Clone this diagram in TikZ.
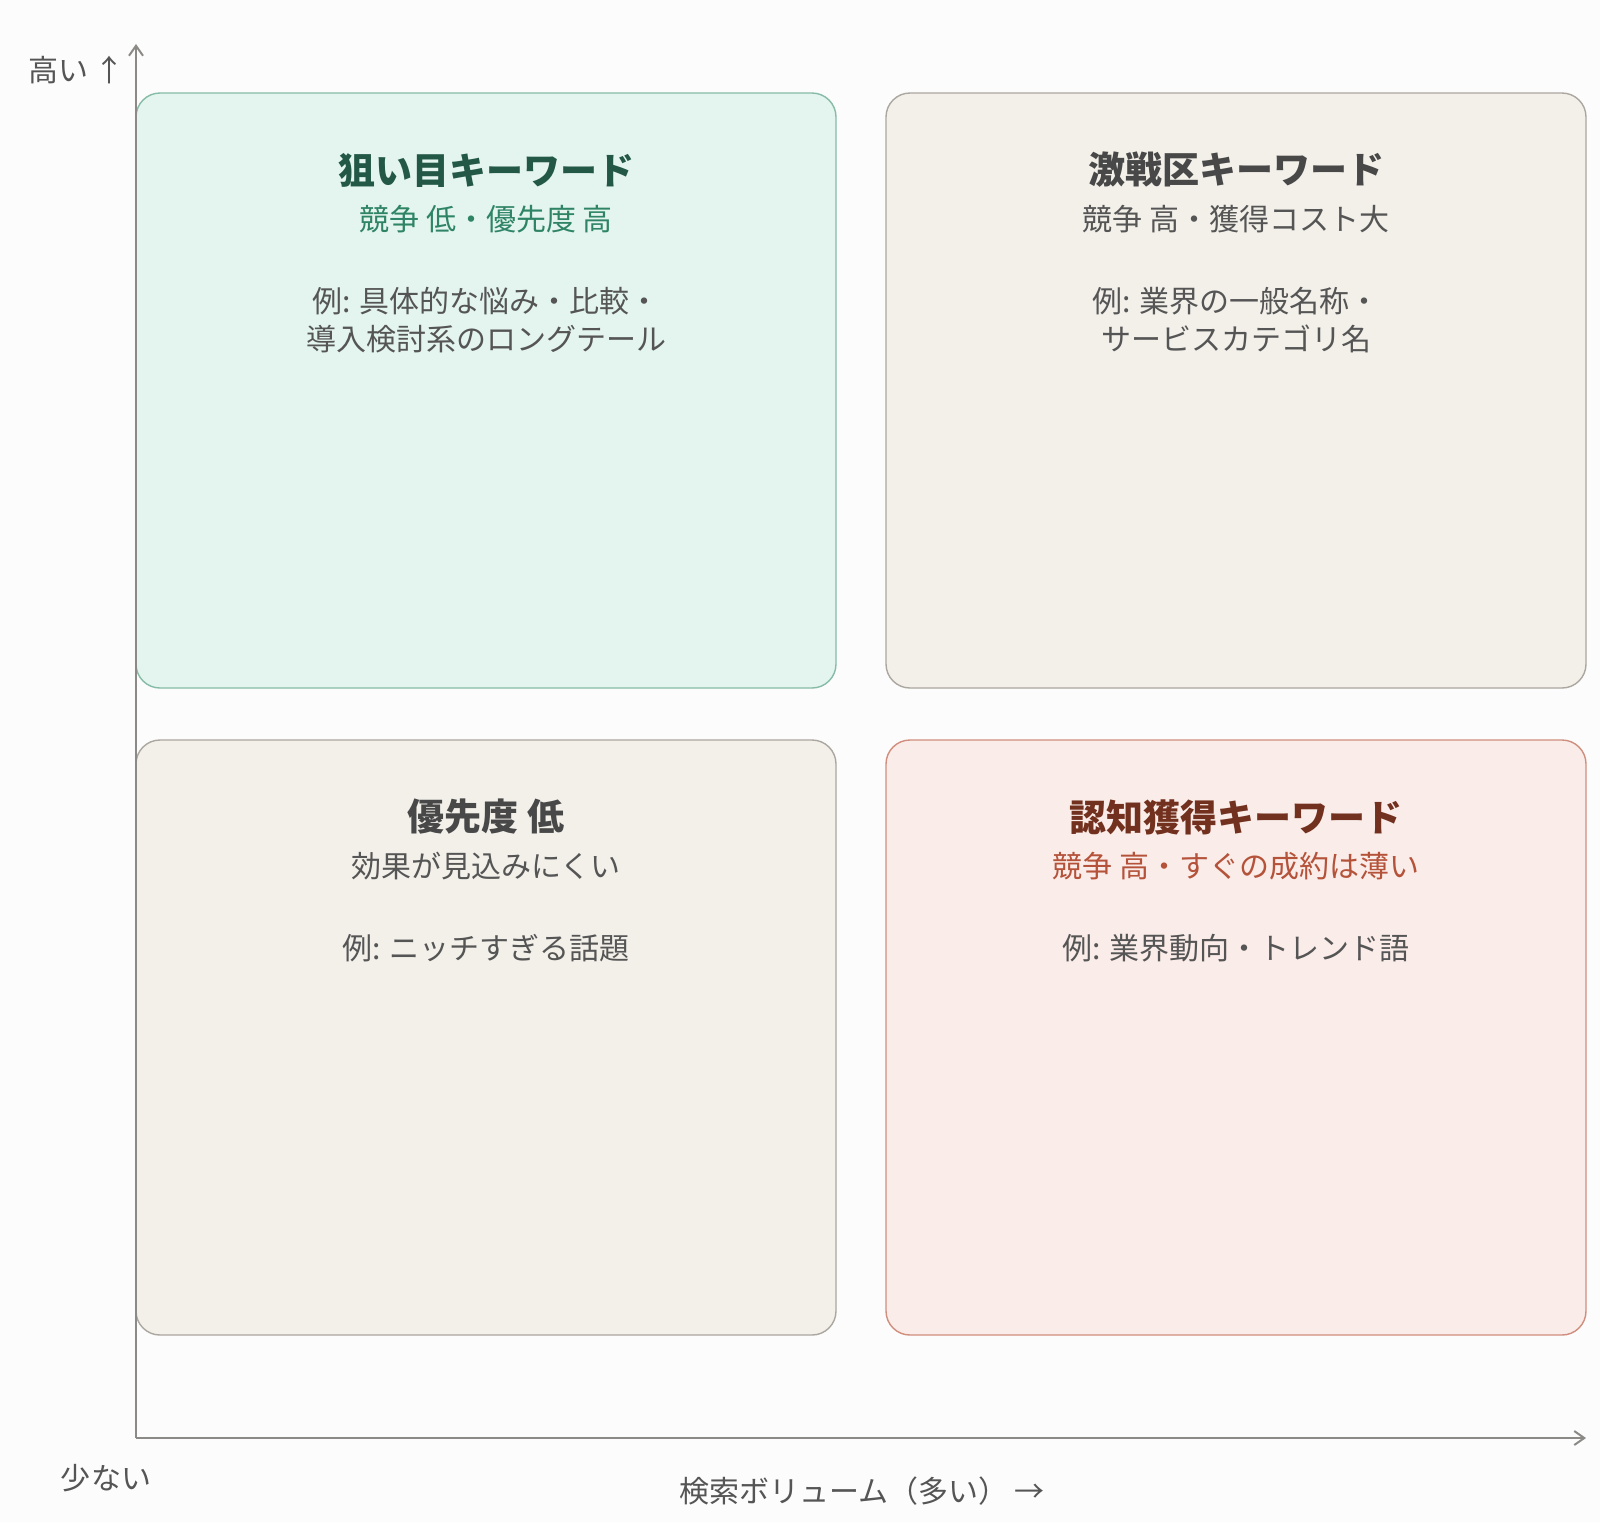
\documentclass[tikz,border=0pt]{standalone}
\usepackage{fontspec}
\setmainfont{Noto Sans CJK JP}
\usetikzlibrary{arrows.meta,positioning,calc}
\definecolor{pagebg}{HTML}{FCFCFC}
\definecolor{axisgray}{HTML}{8C8A86}
\definecolor{textgray}{HTML}{555555}
\definecolor{greenfill}{HTML}{E3F5EE}
\definecolor{greenline}{HTML}{86BBA7}
\definecolor{greentitle}{HTML}{245846}
\definecolor{greensub}{HTML}{2F8466}
\definecolor{beigefill}{HTML}{F3F0EA}
\definecolor{beigeline}{HTML}{ABA7A0}
\definecolor{beigetitle}{HTML}{484848}
\definecolor{redfill}{HTML}{FAECE8}
\definecolor{redline}{HTML}{D08E7E}
\definecolor{redtitle}{HTML}{72301E}
\definecolor{redsub}{HTML}{B4523A}
\tikzset{
  quad/.style={draw, line width=0.7pt, rounded corners=12pt,
    minimum width=350pt, minimum height=297.5pt, inner sep=0pt},
  qtitle/.style={font=\fontsize{18.5}{22}\selectfont\bfseries},
  qsub/.style={font=\fontsize{15}{18}\selectfont},
  qexample/.style={font=\fontsize{15}{19}\selectfont, text=textgray, align=center},
  axislabel/.style={font=\fontsize{15}{18}\selectfont, text=textgray},
  axis/.style={axisgray, line width=1pt, -{Straight Barb[length=5pt,width=7pt]}},
}
\begin{document}
\begin{tikzpicture}[x=0.5pt,y=-0.5pt]
% =============================================
% - page.
\useasboundingbox[fill=pagebg] (0,0) rectangle (1600,1522);
%
% - quadrants.
\node[quad, draw=greenline, fill=greenfill] (tl) at (486,390.5) {};
\node[quad, draw=beigeline, fill=beigefill] (tr) at (1236,390.5) {};
\node[quad, draw=beigeline, fill=beigefill] (bl) at (486,1037.5) {};
\node[quad, draw=redline, fill=redfill] (br) at (1236,1037.5) {};
%
% top left
\node[qtitle, text=greentitle] (tltitle) at (486,170) {狙い目キーワード};
\node[qsub, text=greensub] (tlsub) at (486,219) {競争 低・優先度 高};
\node[qexample] (tlex) at (486,320) {例: 具体的な悩み・比較・\\導入検討系のロングテール};
% top right
\node[qtitle, text=beigetitle] (trtitle) at (1236,170) {激戦区キーワード};
\node[qsub, text=textgray] (trsub) at (1236,219) {競争 高・獲得コスト大};
\node[qexample] (trex) at (1236,320) {例: 業界の一般名称・\\サービスカテゴリ名};
% bottom left
\node[qtitle, text=beigetitle] (bltitle) at (486,817) {優先度 低};
\node[qsub, text=textgray] (blsub) at (486,866) {効果が見込みにくい};
\node[qexample] (blex) at (486,948) {例: ニッチすぎる話題};
% bottom right
\node[qtitle, text=redtitle] (brtitle) at (1236,817) {認知獲得キーワード};
\node[qsub, text=redsub] (brsub) at (1236,866) {競争 高・すぐの成約は薄い};
\node[qexample] (brex) at (1236,948) {例: 業界動向・トレンド語};
%
% - axes.
\coordinate (origin) at (136,1438);
\coordinate (ytop) at (136,44);
\coordinate (xend) at (1586,1438);
\draw[axis] (origin) -- (ytop);
\draw[axis] (origin) -- (xend);
\node[axislabel, anchor=east] (yhigh) at (132,70) {高い ↑};
\node[axislabel] (ylow) at (106,1478) {少ない};
\node[axislabel] (xlabel) at (862,1491) {検索ボリューム（多い） →};
% =============================================
\end{tikzpicture}
\end{document}
